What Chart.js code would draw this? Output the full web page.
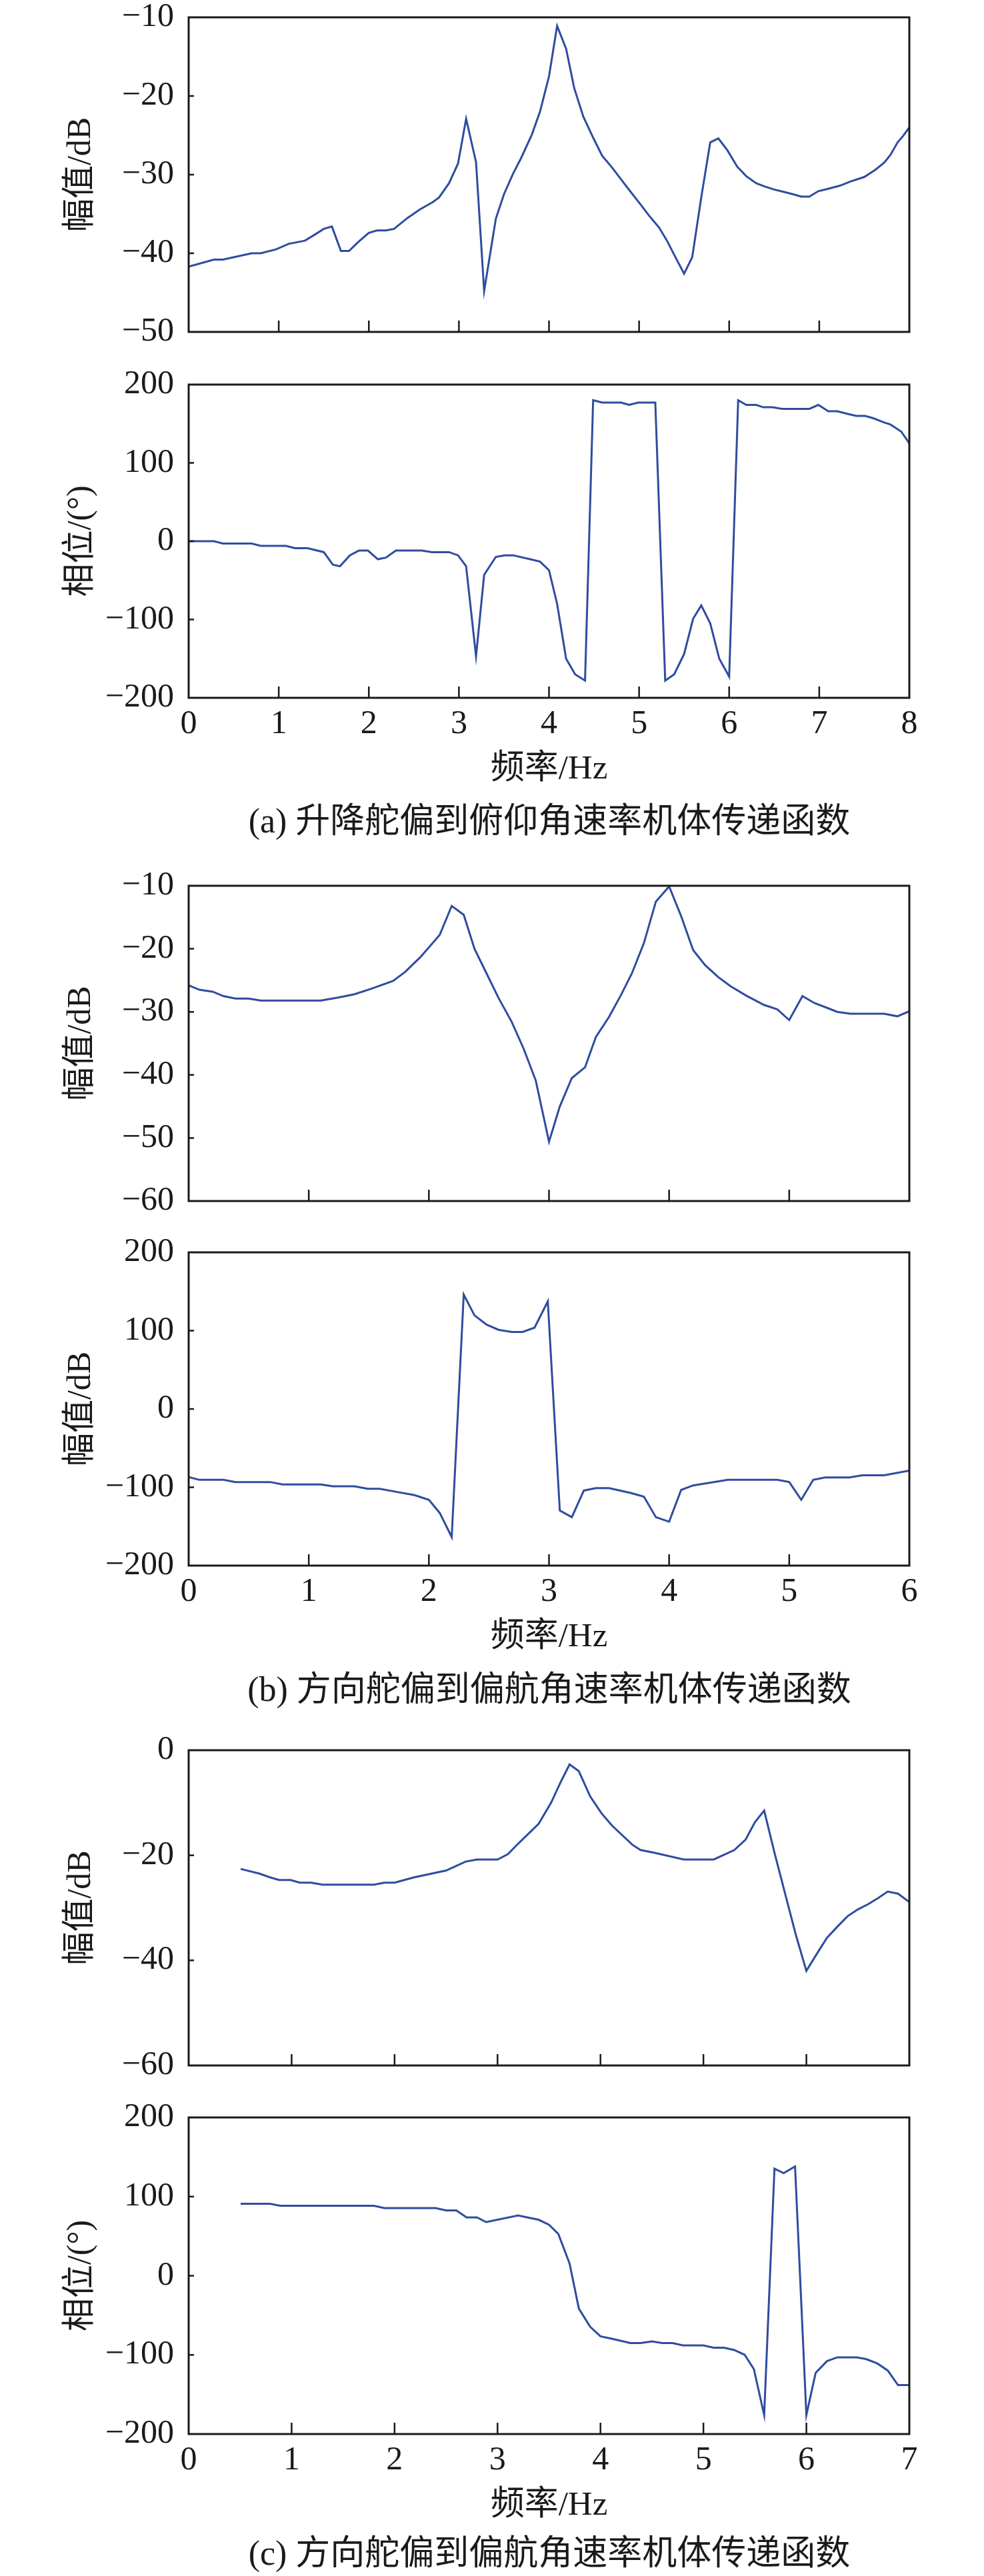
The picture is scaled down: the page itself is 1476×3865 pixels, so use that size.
<!DOCTYPE html>
<html>
<head>
<meta charset="utf-8">
<script src="https://cdn.jsdelivr.net/npm/chart.js@4.4.1/dist/chart.umd.min.js"></script>
<style>
  html, body { margin: 0; padding: 0; background: #ffffff; }
  body { position: relative; width: 1476px; height: 3865px; overflow: hidden; }
  canvas { position: absolute; left: 0; }
  .cap { position: absolute; left: 0; width: 1648px; text-align: center; font-family: "Liberation Serif", "Noto Sans CJK SC", serif; font-size: 52px; color: #1a1a1a; line-height: 60px; white-space: nowrap; }
</style>
</head>
<body>
<script>
// ---------------- DATA ----------------
// (a) 升降舵偏到俯仰角速率 — magnitude
const magAFreq = [0,0.28,0.38,0.7,0.8,0.97,1.11,1.29,1.39,1.5,1.59,1.69,1.78,1.88,2.0,2.09,2.19,2.28,2.43,2.57,2.71,2.78,2.89,2.99,3.08,3.19,3.28,3.41,3.5,3.6,3.69,3.81,3.9,4.0,4.09,4.19,4.28,4.38,4.49,4.59,4.7,4.8,4.9,5.01,5.11,5.22,5.31,5.39,5.5,5.59,5.69,5.79,5.88,5.98,6.09,6.19,6.3,6.39,6.5,6.61,6.71,6.8,6.89,6.99,7.1,7.23,7.34,7.5,7.62,7.72,7.79,7.87,7.93,8.0];
const magAValues = [-41.7,-40.8,-40.8,-40.0,-40.0,-39.5,-38.8,-38.4,-37.7,-36.9,-36.6,-39.7,-39.7,-38.6,-37.4,-37.1,-37.1,-36.9,-35.5,-34.4,-33.5,-32.9,-31.1,-28.6,-22.9,-28.4,-44.8,-35.6,-32.5,-29.9,-27.9,-24.9,-22.0,-17.5,-11.1,-14.0,-19.0,-22.6,-25.3,-27.6,-29.1,-30.6,-32.1,-33.7,-35.2,-36.7,-38.4,-40.2,-42.6,-40.5,-32.9,-25.9,-25.4,-26.9,-29.0,-30.2,-31.1,-31.5,-31.9,-32.2,-32.5,-32.8,-32.8,-32.1,-31.8,-31.4,-30.9,-30.3,-29.4,-28.5,-27.5,-25.9,-25.1,-24.0];
// (a) phase
const phaseAFreq = [0,0.28,0.38,0.7,0.8,1.08,1.18,1.32,1.5,1.6,1.68,1.79,1.89,1.99,2.1,2.19,2.3,2.59,2.7,2.89,2.99,3.08,3.19,3.28,3.41,3.51,3.6,3.79,3.9,4.0,4.09,4.19,4.29,4.4,4.49,4.59,4.8,4.89,4.99,5.18,5.29,5.39,5.5,5.6,5.69,5.79,5.89,6.0,6.1,6.19,6.3,6.38,6.48,6.59,6.89,6.99,7.1,7.2,7.3,7.41,7.51,7.6,7.71,7.79,7.91,8.0];
const phaseAValues = [0,0,-3,-3,-6,-6,-9,-9,-14,-30,-32,-18,-12,-12,-23,-21,-12,-12,-14,-14,-18,-32,-147,-43,-20,-18,-18,-23,-26,-37,-80,-150,-170,-178,180,177,177,174,177,177,-178,-170,-144,-99,-82,-105,-150,-173,180,174,174,171,171,169,169,174,166,166,163,160,160,157,152,149,140,125];

// (b) 方向舵偏到偏航角速率 — magnitude
const magBFreq = [0,0.09,0.2,0.29,0.39,0.5,0.6,1.1,1.25,1.38,1.51,1.7,1.8,1.93,2.09,2.19,2.29,2.38,2.48,2.58,2.69,2.79,2.89,3.0,3.09,3.19,3.3,3.39,3.5,3.6,3.69,3.79,3.89,4.0,4.1,4.2,4.3,4.41,4.51,4.64,4.79,4.9,5.0,5.11,5.21,5.32,5.4,5.51,5.79,5.9,6.0];
const magBValues = [-25.8,-26.5,-26.8,-27.5,-27.9,-27.9,-28.2,-28.2,-27.7,-27.2,-26.4,-25.1,-23.7,-21.3,-17.8,-13.2,-14.6,-20.0,-23.9,-27.8,-31.6,-35.9,-40.9,-50.6,-45.0,-40.5,-38.8,-34.0,-30.8,-27.3,-23.9,-19.1,-12.5,-10.1,-14.8,-20.2,-22.6,-24.5,-25.9,-27.4,-28.9,-29.6,-31.3,-27.5,-28.6,-29.4,-30.0,-30.3,-30.3,-30.7,-29.9];
// (b) phase
const phaseBFreq = [0,0.09,0.29,0.39,0.68,0.78,1.1,1.2,1.38,1.49,1.59,1.7,1.88,2.0,2.09,2.19,2.29,2.38,2.48,2.58,2.69,2.78,2.88,2.99,3.09,3.19,3.29,3.39,3.5,3.68,3.79,3.89,4.0,4.1,4.2,4.49,4.9,5.0,5.1,5.2,5.3,5.5,5.61,5.79,6.0];
const phaseBValues = [-87,-90.5,-90.5,-93.3,-93.3,-96.4,-96.4,-98.7,-98.7,-101.9,-101.9,-105,-110,-116,-132.7,-163.6,146,119.5,107.7,101.1,98.3,98.3,103.8,137.4,-129.6,-138.2,-104.2,-101.1,-101.1,-107.3,-112,-138.2,-144,-103.4,-97.6,-90.5,-90.5,-93.3,-116,-90.5,-87.4,-87.4,-84.6,-84.6,-78.8];

// (c) 方向舵偏到偏航角速率 — magnitude
const magCFreq = [0.505,0.69,0.79,0.88,0.99,1.08,1.19,1.3,1.8,1.9,2.0,2.19,2.5,2.69,2.8,3.0,3.1,3.2,3.4,3.52,3.62,3.7,3.79,3.9,4.01,4.11,4.31,4.39,4.52,4.81,5.1,5.3,5.41,5.5,5.59,5.69,5.8,5.9,6.0,6.1,6.2,6.3,6.4,6.5,6.6,6.7,6.79,6.89,7.0];
const magCValues = [-22.6,-23.5,-24.2,-24.7,-24.7,-25.2,-25.2,-25.6,-25.6,-25.2,-25.2,-24.2,-22.9,-21.2,-20.8,-20.8,-19.8,-17.8,-14.0,-10.0,-5.8,-2.7,-4.0,-8.8,-12.0,-14.3,-18.0,-19.0,-19.5,-20.8,-20.8,-19.0,-17.0,-13.7,-11.5,-19.5,-27.8,-35.3,-42.0,-38.8,-35.7,-33.6,-31.6,-30.3,-29.3,-28.1,-26.9,-27.3,-28.9];
// (c) phase
const phaseCFreq = [0.505,0.79,0.89,1.8,1.9,2.4,2.5,2.6,2.7,2.8,2.89,3.2,3.29,3.4,3.5,3.59,3.7,3.79,3.9,4.0,4.11,4.29,4.39,4.5,4.6,4.7,4.8,5.0,5.1,5.2,5.3,5.4,5.49,5.59,5.69,5.78,5.89,6.0,6.09,6.2,6.3,6.49,6.58,6.69,6.79,6.89,7.0];
const phaseCValues = [91,91,88.4,88.4,85.5,85.5,82.5,82.5,73.7,73.7,67.8,76.2,73.7,70.7,64.5,53,15.5,-41.6,-64.5,-76.6,-79.6,-85.1,-85.1,-82.9,-85.1,-85.1,-88,-88,-91,-91,-93.9,-99.8,-117.9,-176,135.2,129.6,138.1,-176,-122.7,-107.9,-103.1,-103.1,-105.3,-110.9,-119.7,-138.1,-138.1];

// axis ticks / labels
const xMaxA = 8, xMaxB = 6, xMaxC = 7;
const magARange = [-50, -10], magAStep = 10;
const magBRange = [-60, -10], magBStep = 10;
const magCRange = [-60, 0], magCStep = 20;
const phaseRange = [-200, 200], phaseStep = 100;
const xTitle = '频率/Hz';
const magTitle = '幅值/dB';
const phaseTitle = '相位/(°)';
const captions = ['(a) 升降舵偏到俯仰角速率机体传递函数', '(b) 方向舵偏到偏航角速率机体传递函数', '(c) 方向舵偏到偏航角速率机体传递函数'];

// ---------------- DRAWING ----------------
const FONT = '"Liberation Serif", "Noto Sans CJK SC", serif';
const INK = '#1a1a1a';
const LINE = '#2f4c9f';

const framePlugin = {
  id: 'frame',
  afterDraw(chart) {
    const { ctx, chartArea: a, scales } = chart;
    const x = scales.x, y = scales.y;
    ctx.save();
    ctx.strokeStyle = INK;
    ctx.lineWidth = 3;
    ctx.strokeRect(a.left, a.top, a.right - a.left, a.bottom - a.top);
    ctx.lineWidth = 2.5;
    ctx.beginPath();
    x.ticks.forEach(t => {
      const px = x.getPixelForValue(t.value);
      if (px > a.left + 3 && px < a.right - 3) { ctx.moveTo(px, a.bottom); ctx.lineTo(px, a.bottom - 17); }
    });
    y.ticks.forEach(t => {
      const py = y.getPixelForValue(t.value);
      if (py > a.top + 3 && py < a.bottom - 3) { ctx.moveTo(a.left, py); ctx.lineTo(a.left + 8, py); }
    });
    ctx.stroke();
    ctx.restore();
  }
};

function fmt(v) { return v < 0 ? '\u2212' + Math.abs(v) : String(v); }

function makeChart(spec) {
  const margin = 40;
  const bottomH = spec.labels ? 150 : 40;
  const plotH = spec.bottom - spec.top;
  const c = document.createElement('canvas');
  c.width = 1476;
  c.height = plotH + margin + bottomH;
  c.style.top = (spec.top - margin) + 'px';
  c.style.width = '1476px';
  c.style.height = c.height + 'px';
  document.body.appendChild(c);
  const pts = spec.xs.map((v, i) => ({ x: v, y: spec.ys[i] }));
  new Chart(c.getContext('2d'), {
    type: 'line',
    data: { datasets: [{ data: pts, borderColor: LINE, borderWidth: 3, pointRadius: 0, tension: 0, fill: false }] },
    options: {
      responsive: false, animation: false, devicePixelRatio: 1,
      layout: { padding: { top: margin, left: 0, right: 1476 - 1364, bottom: 0 } },
      plugins: { legend: { display: false }, tooltip: { enabled: false } },
      scales: {
        x: {
          type: 'linear', min: 0, max: spec.xMax,
          grid: { display: false, drawTicks: false }, border: { display: false },
          ticks: { display: spec.labels, stepSize: 1, padding: 10, color: INK, font: { family: FONT, size: 50 }, maxRotation: 0, autoSkip: false, callback: fmt },
          title: { display: spec.labels, text: xTitle, color: INK, font: { family: FONT, size: 51 }, padding: { top: 0, bottom: 12 } },
          afterFit(s) { s.height = bottomH; s.paddingLeft = 0; s.paddingRight = 0; }
        },
        y: {
          type: 'linear', min: spec.range[0], max: spec.range[1],
          grid: { display: false, drawTicks: false }, border: { display: false },
          ticks: { stepSize: spec.step, padding: 22, color: INK, font: { family: FONT, size: 50 }, callback: fmt },
          title: { display: true, text: spec.title, color: INK, font: { family: FONT, size: 50 }, padding: { top: 92, bottom: 0 } },
          afterFit(s) { s.width = 283; s.paddingTop = 0; s.paddingBottom = 0; }
        }
      }
    },
    plugins: [framePlugin]
  });
}

const specs = [
  { top: 26,   bottom: 498,  labels: false, xMax: xMaxA, xs: magAFreq,   ys: magAValues,   range: magARange,  step: magAStep,  title: magTitle },
  { top: 577,  bottom: 1047, labels: true,  xMax: xMaxA, xs: phaseAFreq, ys: phaseAValues, range: phaseRange, step: phaseStep, title: phaseTitle },
  { top: 1329, bottom: 1802, labels: false, xMax: xMaxB, xs: magBFreq,   ys: magBValues,   range: magBRange,  step: magBStep,  title: magTitle },
  { top: 1879, bottom: 2349, labels: true,  xMax: xMaxB, xs: phaseBFreq, ys: phaseBValues, range: phaseRange, step: phaseStep, title: magTitle },
  { top: 2626, bottom: 3099, labels: false, xMax: xMaxC, xs: magCFreq,   ys: magCValues,   range: magCRange,  step: magCStep,  title: magTitle },
  { top: 3177, bottom: 3652, labels: true,  xMax: xMaxC, xs: phaseCFreq, ys: phaseCValues, range: phaseRange, step: phaseStep, title: phaseTitle }
];
specs.forEach(makeChart);

const capY = [1232, 2535, 3831];
captions.forEach((t, i) => {
  const d = document.createElement('div');
  d.className = 'cap';
  d.textContent = t;
  d.style.top = (capY[i] - 30) + 'px';
  document.body.appendChild(d);
});
</script>
</body>
</html>
